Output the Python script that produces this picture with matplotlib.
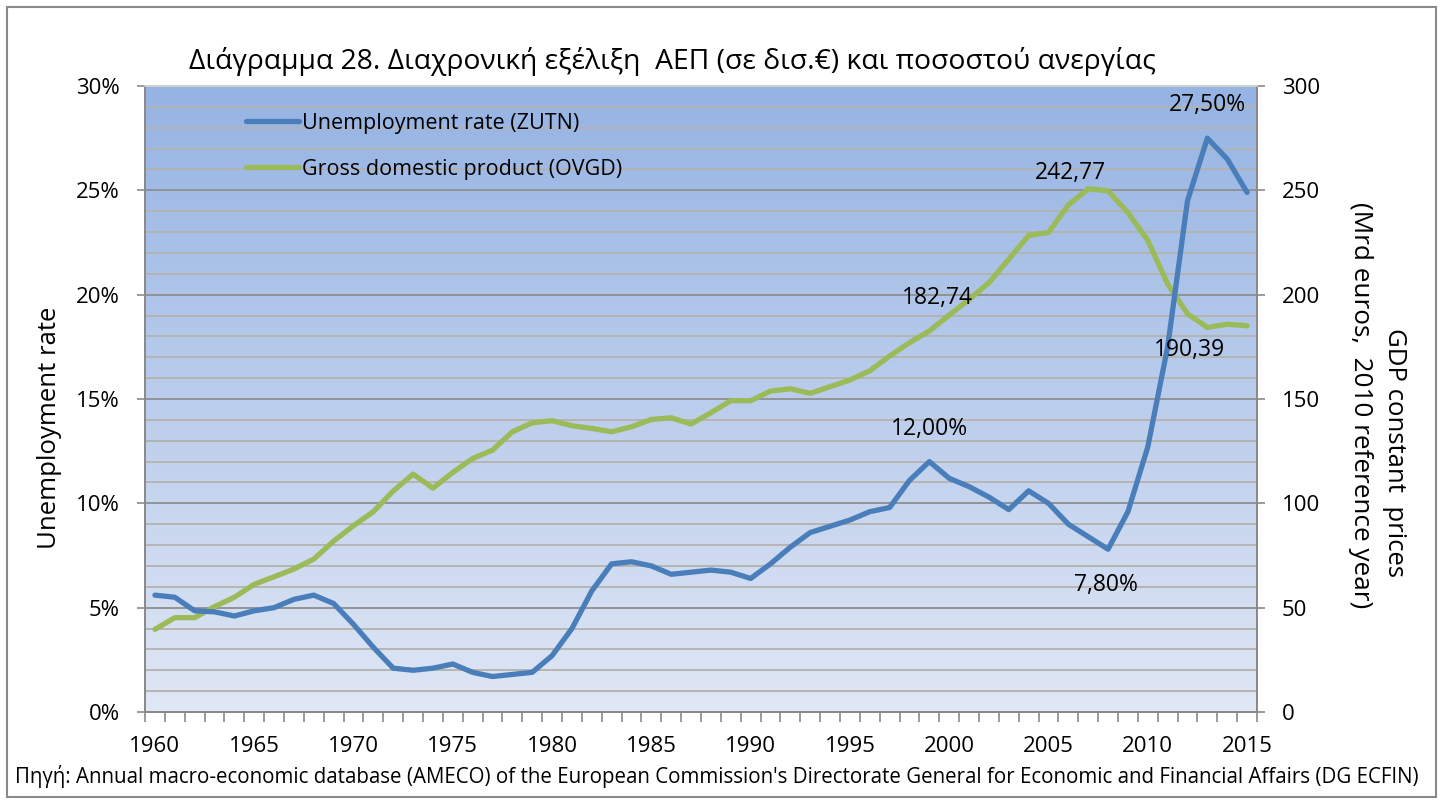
import numpy as np
import matplotlib
matplotlib.use("Agg")
import matplotlib.pyplot as plt
from matplotlib.patches import Rectangle

plt.rcParams['font.family'] = ['Open Sans', 'DejaVu Sans']

years = list(range(1960, 2016))
unemployment = [5.6, 5.5, 4.85, 4.8, 4.6, 4.85, 5.0, 5.4, 5.6, 5.2,
                4.2, 3.1, 2.1, 2.0, 2.1, 2.3, 1.9, 1.7, 1.8, 1.9,
                2.7, 4.0, 5.8, 7.1, 7.2, 7.0, 6.6, 6.7, 6.8, 6.7,
                6.4, 7.1, 7.9, 8.6, 8.9, 9.2, 9.6, 9.8, 11.1, 12.0,
                11.2, 10.8, 10.3, 9.7, 10.6, 10.0, 9.0, 8.4, 7.8, 9.6,
                12.7, 17.5, 24.5, 27.5, 26.5, 24.9]
gdp = [39.6, 45.2, 45.2, 50.5, 55.0, 61.2, 64.8, 68.5, 73.3, 81.9,
       89.3, 96.0, 105.9, 114.0, 107.3, 114.8, 121.5, 125.5, 134.3, 138.6,
       139.6, 137.2, 135.9, 134.3, 136.7, 140.2, 141.0, 138.0, 143.4, 149.2,
       149.2, 153.8, 154.9, 152.7, 155.9, 159.1, 163.5, 170.6, 177.0, 182.6,
       190.2, 197.7, 205.7, 217.0, 228.4, 229.8, 243.0, 250.7, 249.8, 239.3,
       226.0, 205.1, 190.8, 184.3, 185.8, 185.1]
x_labels = [1960, 1965, 1970, 1975, 1980, 1985, 1990, 1995, 2000, 2005, 2010, 2015]
left_ticks = [0, 5, 10, 15, 20, 25, 30]
right_ticks = [0, 50, 100, 150, 200, 250, 300]

title = "Διάγραμμα 28. Διαχρονική εξέλιξη  ΑΕΠ (σε δισ.€) και ποσοστού ανεργίας"
source = ("Πηγή: Annual macro-economic database (AMECO) of the European Commission's "
          "Directorate General for Economic and Financial Affairs (DG ECFIN)")

W, H = 1443, 801
fig = plt.figure(figsize=(W / 100, H / 100), dpi=100)
fig.patch.set_facecolor('white')

# outer chart border
fig.patches.append(Rectangle((7 / W, 4 / H), 1429 / W, 790 / H, transform=fig.transFigure,
                             fill=False, edgecolor='#8a8a8a', linewidth=1.5))

L, R, T, B = 145, 1257, 86, 712
ax = fig.add_axes([L / W, (H - B) / H, (R - L) / W, (B - T) / H])
ax.set_xlim(1959.5, 2015.5)
ax.set_ylim(0, 30)

# gradient background
top = np.array([0x95, 0xb3, 0xe3]) / 255
bot = np.array([0xe0, 0xe7, 0xf5]) / 255
t = np.linspace(0, 1, 256)[:, None]
grad = (top[None, :] * (1 - t) + bot[None, :] * t)[:, None, :]
ax.imshow(grad, extent=[1959.5, 2015.5, 0, 30], aspect='auto', origin='upper', zorder=0)

# gridlines
for v in np.arange(1, 30, 1):
    if v % 5 == 0:
        ax.axhline(v, color='#8e8e8e', lw=1.3, zorder=1)
    else:
        ax.axhline(v, color='#b5b2ad', lw=1.3, zorder=1)

ax2 = ax.twinx()
ax2.set_ylim(0, 300)

blue, green = '#4a7ebb', '#9bbb59'
l2, = ax2.plot(years, gdp, color=green, lw=3.8, solid_capstyle='round',
               solid_joinstyle='round', zorder=3, label='Gross domestic product (OVGD)')
# unemployment drawn on the secondary axis (1% = 10 units) so that it sits on top
l1, = ax2.plot(years, [u * 10 for u in unemployment], color=blue, lw=3.8,
               solid_capstyle='round', solid_joinstyle='round', zorder=4,
               label='Unemployment rate (ZUTN)')
ax.set_zorder(ax2.get_zorder() - 1)
ax2.patch.set_visible(False)

fs = 16
ax.set_yticks(left_ticks)
ax.set_yticklabels([f"{v}%" for v in left_ticks], fontsize=fs)
ax2.set_yticks(right_ticks)
ax2.set_yticklabels([str(v) for v in right_ticks], fontsize=fs)
ax.set_xticks(x_labels)
ax.set_xticklabels([str(v) for v in x_labels], fontsize=fs)
ax.set_xticks(np.arange(1959.5, 2016, 1), minor=True)
ax.tick_params(axis='x', which='major', length=0, pad=17)
ax.tick_params(axis='x', which='minor', length=7, color='#8a8a8a', width=1.2)
ax.tick_params(axis='y', which='major', length=6, color='#8a8a8a', width=1.2, pad=12)
ax2.tick_params(axis='y', which='major', length=6, color='#8a8a8a', width=1.2, pad=12)

for a in (ax, ax2):
    for s in a.spines.values():
        s.set_color('#8a8a8a')
        s.set_linewidth(1.3)
ax.spines['top'].set_color('#d0d0d0')
ax2.spines['top'].set_color('#d0d0d0')

# legend
leg = ax2.legend(handles=[l1, l2], loc='upper left', bbox_to_anchor=(0.073, 0.988),
                 frameon=False, fontsize=15.5, handlelength=2.5, handletextpad=0.1,
                 labelspacing=1.15)

# data labels
lab = dict(fontsize=16.5, ha='center', va='center', color='black', zorder=6)
ax2.text(2013.0, 291, "27,50%", **lab)
ax2.text(2006.1, 258.5, "242,77", **lab)
ax2.text(1999.4, 198.5, "182,74", **lab)
ax2.text(1999.0, 135.5, "12,00%", **lab)
ax2.text(2007.9, 61, "7,80%", **lab)
ax2.text(2012.1, 173.5, "190,39", **lab)

fig.text(672 / W, 1 - 62 / H, title, fontsize=20.3, ha='center', va='center')
fig.text(50 / W, 1 - 428 / H, "Unemployment rate", fontsize=18.5, rotation=90,
         ha='center', va='center')
fig.text(1395 / W, 1 - 452 / H, "GDP constant  prices", fontsize=18.5, rotation=270,
         ha='center', va='center')
fig.text(1361 / W, 1 - 405 / H, "(Mrd euros,  2010 reference year)", fontsize=18.8,
         rotation=270, ha='center', va='center')
fig.text(15 / W, 1 - 776 / H, source, fontsize=14.8, ha='left', va='center')

fig.savefig('out.png', dpi=100)
